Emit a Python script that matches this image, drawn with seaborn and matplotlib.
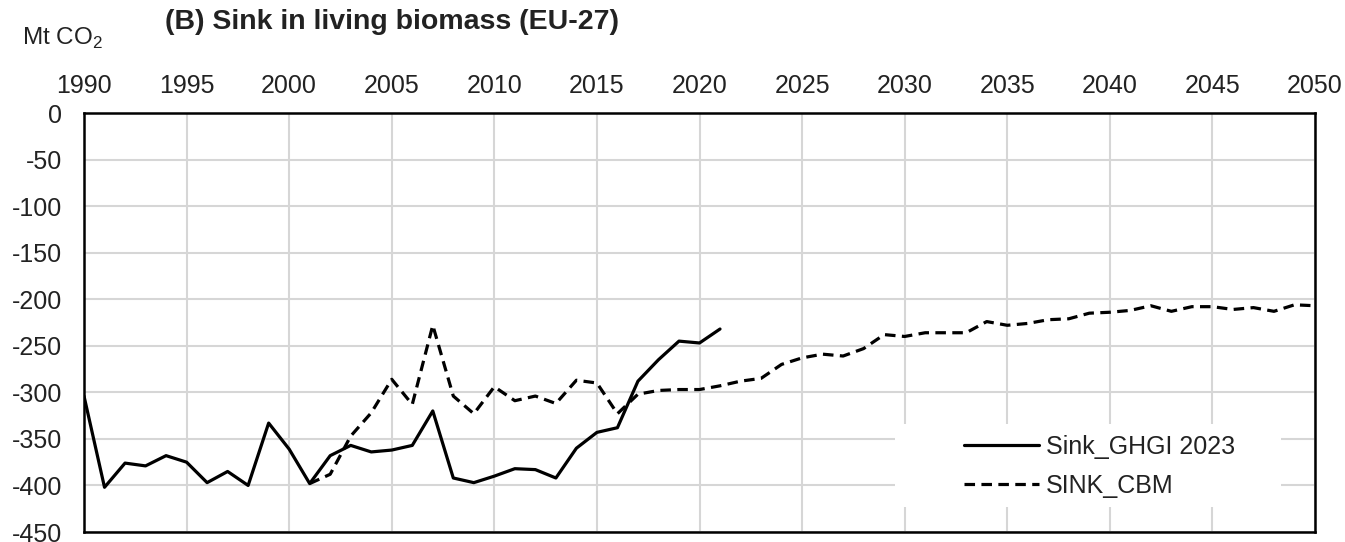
import matplotlib
matplotlib.use("Agg")
import matplotlib.pyplot as plt
from matplotlib.patches import Rectangle
import numpy as np
import pandas as pd
import seaborn as sns

# GHGI 2023 reported sink, 1990-2021
ghgi_years = list(range(1990, 2022))
ghgi_values = [
    -304, -402, -376, -379, -368, -375, -397, -385, -400, -333,
    -361, -398, -368, -357, -364, -362, -357, -320, -392, -397,
    -390, -382, -383, -392, -360, -343, -338, -288, -265, -245,
    -247, -232,
]

# CBM projection, 2001-2050
cbm_years = list(range(2001, 2051))
cbm_values = [
    -398, -388, -347, -322, -286, -313, -228, -304, -323, -294,
    -309, -304, -312, -287, -290, -323, -302, -298, -297, -297,
    -293, -288, -285, -270, -263, -259, -261, -253, -238, -240,
    -236, -236, -236, -224, -228, -226, -222, -221, -215, -214,
    -212, -207, -213, -208, -208, -211, -209, -213, -206, -207,
]

series_names = ["Sink_GHGI 2023", "SINK_CBM"]
x_ticks = list(range(1990, 2051, 5))
y_ticks = list(range(0, -451, -50))

df = pd.concat([
    pd.DataFrame({"year": ghgi_years, "value": ghgi_values, "series": series_names[0]}),
    pd.DataFrame({"year": cbm_years, "value": cbm_values, "series": series_names[1]}),
])

sns.set_style("white")
plt.rcParams["font.family"] = ["Liberation Sans", "DejaVu Sans"]
plt.rcParams["mathtext.fontset"] = "custom"
plt.rcParams["mathtext.rm"] = "Liberation Sans"
plt.rcParams["axes.unicode_minus"] = False
text_color = "#222222"

fig = plt.figure(figsize=(13.45, 5.42), dpi=100)
ax = fig.add_axes([84 / 1345, 1 - 532 / 542, (1315 - 84) / 1345, (532 - 113) / 542])

sns.lineplot(
    data=df, x="year", y="value", style="series",
    dashes={series_names[0]: "", series_names[1]: (3.3, 2.0)},
    color="black", linewidth=2.3, ax=ax, legend=False, zorder=3,
)

ax.set_xlim(1990, 2050)
ax.set_ylim(-450, 0)
ax.set_xticks(x_ticks)
ax.set_yticks(y_ticks)
ax.xaxis.tick_top()
ax.tick_params(axis="both", length=0, labelsize=18, colors=text_color)
ax.tick_params(axis="x", pad=11)
ax.tick_params(axis="y", pad=16)
ax.set_xlabel("")
ax.set_ylabel("")
ax.set_axisbelow(True)
ax.grid(True, color="#d6d6d6", linewidth=1.5)
for s in ax.spines.values():
    s.set_visible(True)
    s.set_color("black")
    s.set_linewidth(1.8)

# white legend background that hides the grid
ax.add_patch(Rectangle((0.659, 0.06), 0.313, 0.197, transform=ax.transAxes,
                       facecolor="white", edgecolor="none", zorder=1))

handles = [
    plt.Line2D([], [], color="black", linewidth=2.3),
    plt.Line2D([], [], color="black", linewidth=2.3, dashes=(3.3, 2.0)),
]
ax.legend(handles, series_names, loc="center left", bbox_to_anchor=(0.705, 0.157),
          frameon=False, fontsize=18, handlelength=3.0, handletextpad=0.25,
          labelspacing=0.6, borderpad=0, labelcolor=text_color)

fig.text(165 / 1345, 1 - 22 / 542, "(B) Sink in living biomass (EU-27)",
         fontsize=20.5, fontweight="bold", color=text_color, ha="left", va="center")
fig.text(22 / 1345, 1 - 38 / 542, "Mt CO$_2$", fontsize=17.5, color=text_color,
         ha="left", va="center")

fig.savefig("out.png", dpi=100)
